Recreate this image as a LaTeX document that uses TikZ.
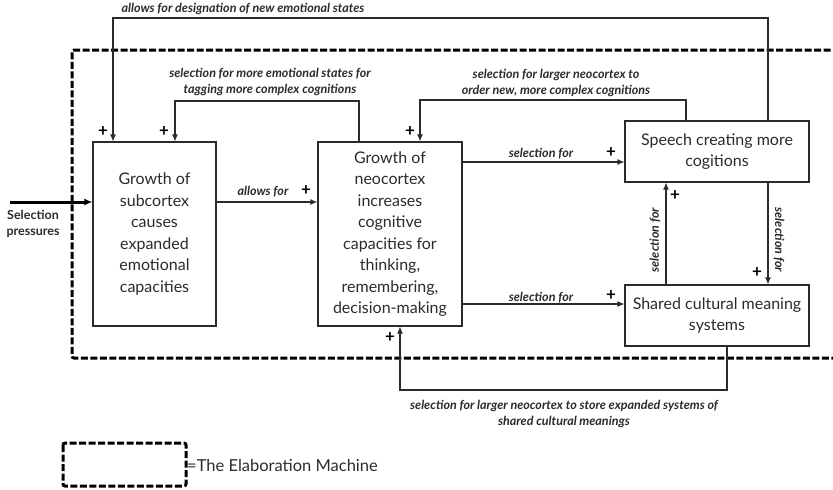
\documentclass[tikz,border=0pt]{standalone}
\usepackage{fontspec}
\setmainfont{Lato}
\usetikzlibrary{arrows.meta,calc}
\definecolor{ink}{HTML}{2B2B2B}
\tikzset{
  box/.style={draw=ink, line width=1.1pt, fill=white, align=center, inner sep=2pt,
    font=\fontsize{16}{21.5}\selectfont, text=ink},
  conn/.style={draw=ink, line width=1.1pt, -{Latex[length=7pt,width=6pt]}},
  heavy/.style={draw=black, line width=3pt, -{Latex[length=8pt,width=7pt]}},
  lbl/.style={font=\fontsize{12.5}{16}\selectfont\bfseries\itshape, align=center, inner sep=0pt, text=ink},
  plus/.style={font=\fontsize{17}{17}\selectfont\bfseries, inner sep=0pt},
  machine/.style={draw=black, line width=3pt, dash pattern=on 7pt off 2.5pt, rounded corners=2pt}
}
\begin{document}
\begin{tikzpicture}[x=1pt,y=-1pt]
\useasboundingbox (0,0) rectangle (833,490);

% boundary of the elaboration machine (open on the right)
\draw[machine] (840,50) -- (72,50) -- (72,358) -- (840,358);

% main boxes
\node[box, minimum width=123pt, minimum height=184pt] (A) at (154.5,234)
  {Growth of\\subcortex\\causes\\expanded\\emotional\\capacities};
\node[box, minimum width=144pt, minimum height=184pt] (B) at (390,234)
  {Growth of\\neocortex\\increases\\cognitive\\capacities for\\thinking,\\remembering,\\decision-making};
\node[box, minimum width=184pt, minimum height=61pt] (C) at (717,151.5)
  {Speech creating more\\cogitions};
\node[box, minimum width=184pt, minimum height=61pt] (D) at (717,315.5)
  {Shared cultural meaning\\systems};

% selection pressures input
\coordinate (sp) at (10,202);
\draw[heavy] (sp) -- (A.west |- sp);
\node[lbl, font=\fontsize{12.5}{16}\selectfont\bfseries] (spl) at (33,224) {Selection\\pressures};

% A -> B
\coordinate (ab) at (0,202);
\draw[conn] (A.east |- ab) -- (B.west |- ab);
\node[lbl] (abl) at (263,192) {allows for};
\node[plus] (abp) at (306,191) {+};

% B -> C and B -> D
\coordinate (bc) at (0,162);
\coordinate (bd) at (0,304);
\draw[conn] (B.east |- bc) -- (C.west |- bc);
\draw[conn] (B.east |- bd) -- (D.west |- bd);
\node[lbl] (bcl) at (541,154) {selection for};
\node[lbl] (bdl) at (541,298) {selection for};
\node[plus] (bcp) at (611,153) {+};
\node[plus] (bdp) at (611,296) {+};

% D <-> C
\coordinate (dc) at (666,0);
\coordinate (cd) at (768,0);
\draw[conn] (D.north -| dc) -- (C.south -| dc);
\draw[conn] (C.south -| cd) -- (D.north -| cd);
\node[lbl, rotate=90] (dcl) at (655,240) {selection for};
\node[lbl, rotate=-90] (cdl) at (779,240) {selection for};
\node[plus] (dcp) at (675,196) {+};
\node[plus] (cdp) at (757,273) {+};

% feedback from speech to the subcortex
\coordinate (f1) at (113,18);
\draw[conn] (C.north -| cd) |- (f1) -- (A.north -| f1);
\node[lbl] (f1l) at (243,9) {allows for designation of new emotional states};
\node[plus] (f1p) at (103,132) {+};

% feedback from neocortex to the subcortex
\coordinate (f2a) at (359,0);
\coordinate (f2) at (175,101);
\draw[conn] (B.north -| f2a) |- (f2) -- (A.north -| f2);
\node[lbl] (f2l) at (270,82) {selection for more emotional states for\\tagging more complex cognitions};
\node[plus] (f2p) at (164,132) {+};

% feedback from speech to the neocortex
\coordinate (f3a) at (686,0);
\coordinate (f3) at (420,100);
\draw[conn] (C.north -| f3a) |- (f3) -- (B.north -| f3);
\node[lbl] (f3l) at (556,83) {selection for larger neocortex to\\order new, more complex cognitions};
\node[plus] (f3p) at (410,132) {+};

% feedback from shared meanings to the neocortex
\coordinate (f4a) at (727,0);
\coordinate (f4) at (400,390);
\draw[conn] (D.south -| f4a) |- (f4) -- (B.south -| f4);
\node[lbl] (f4l) at (564,414) {selection for larger neocortex to store expanded systems of\\shared cultural meanings};
\node[plus] (f4p) at (390,338) {+};

% legend
\draw[machine] (63,443) rectangle (186,486);
\node[anchor=west, inner sep=0pt, font=\fontsize{16.5}{16.5}\selectfont, text=ink] (leg) at (187,465) {=The Elaboration Machine};
\end{tikzpicture}
\end{document}
